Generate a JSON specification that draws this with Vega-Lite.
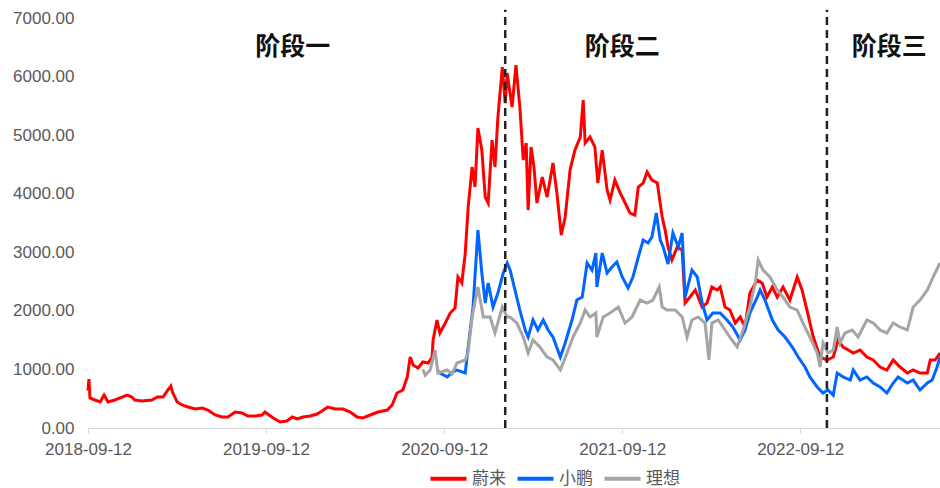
{
  "$schema": "https://vega.github.io/schema/vega-lite/v6.json",
  "width": 852,
  "height": 410,
  "autosize": {"type": "none"},
  "padding": {"left": 88, "top": 18, "right": 0, "bottom": 60},
  "background": "#ffffff",
  "config": {"view": {"stroke": null}, "font": "Liberation Sans"},
  "datasets": {
    "prices": [
      {"date":"2018-09-12","series":"蔚来","value":640},
      {"date":"2018-09-14","series":"蔚来","value":836},
      {"date":"2018-09-16","series":"蔚来","value":512},
      {"date":"2018-09-26","series":"蔚来","value":478},
      {"date":"2018-10-07","series":"蔚来","value":444},
      {"date":"2018-10-15","series":"蔚来","value":563},
      {"date":"2018-10-23","series":"蔚来","value":444},
      {"date":"2018-11-06","series":"蔚来","value":478},
      {"date":"2018-11-21","series":"蔚来","value":529},
      {"date":"2018-12-01","series":"蔚来","value":563},
      {"date":"2018-12-11","series":"蔚来","value":529},
      {"date":"2018-12-17","series":"蔚来","value":478},
      {"date":"2019-01-01","series":"蔚来","value":461},
      {"date":"2019-01-21","series":"蔚来","value":478},
      {"date":"2019-02-01","series":"蔚来","value":529},
      {"date":"2019-02-13","series":"蔚来","value":529},
      {"date":"2019-02-23","series":"蔚来","value":649},
      {"date":"2019-03-01","series":"蔚来","value":717},
      {"date":"2019-03-05","series":"蔚来","value":597},
      {"date":"2019-03-14","series":"蔚来","value":444},
      {"date":"2019-03-24","series":"蔚来","value":393},
      {"date":"2019-04-05","series":"蔚来","value":358},
      {"date":"2019-04-20","series":"蔚来","value":324},
      {"date":"2019-05-04","series":"蔚来","value":341},
      {"date":"2019-05-16","series":"蔚来","value":307},
      {"date":"2019-05-31","series":"蔚来","value":222},
      {"date":"2019-06-14","series":"蔚来","value":188},
      {"date":"2019-06-26","series":"蔚来","value":188},
      {"date":"2019-07-11","series":"蔚来","value":273},
      {"date":"2019-07-25","series":"蔚来","value":256},
      {"date":"2019-08-06","series":"蔚来","value":205},
      {"date":"2019-08-21","series":"蔚来","value":205},
      {"date":"2019-09-04","series":"蔚来","value":222},
      {"date":"2019-09-10","series":"蔚来","value":273},
      {"date":"2019-09-27","series":"蔚来","value":171},
      {"date":"2019-10-11","series":"蔚来","value":102},
      {"date":"2019-10-25","series":"蔚来","value":120},
      {"date":"2019-11-05","series":"蔚来","value":188},
      {"date":"2019-11-15","series":"蔚来","value":154},
      {"date":"2019-11-27","series":"蔚来","value":188},
      {"date":"2019-12-12","series":"蔚来","value":205},
      {"date":"2019-12-26","series":"蔚来","value":239},
      {"date":"2020-01-05","series":"蔚来","value":290},
      {"date":"2020-01-17","series":"蔚来","value":358},
      {"date":"2020-02-01","series":"蔚来","value":324},
      {"date":"2020-02-17","series":"蔚来","value":324},
      {"date":"2020-03-03","series":"蔚来","value":273},
      {"date":"2020-03-17","series":"蔚来","value":188},
      {"date":"2020-03-29","series":"蔚来","value":171},
      {"date":"2020-04-13","series":"蔚来","value":222},
      {"date":"2020-04-29","series":"蔚来","value":273},
      {"date":"2020-05-18","series":"蔚来","value":307},
      {"date":"2020-05-28","series":"蔚来","value":393},
      {"date":"2020-06-07","series":"蔚来","value":597},
      {"date":"2020-06-19","series":"蔚来","value":649},
      {"date":"2020-06-28","series":"蔚来","value":871},
      {"date":"2020-07-04","series":"蔚来","value":1212},
      {"date":"2020-07-10","series":"蔚来","value":1075},
      {"date":"2020-07-20","series":"蔚来","value":1024},
      {"date":"2020-07-30","series":"蔚来","value":1127},
      {"date":"2020-08-10","series":"蔚来","value":1110},
      {"date":"2020-08-18","series":"蔚来","value":1212},
      {"date":"2020-08-20","series":"蔚来","value":1502},
      {"date":"2020-08-28","series":"蔚来","value":1844},
      {"date":"2020-09-03","series":"蔚来","value":1622},
      {"date":"2020-09-14","series":"蔚来","value":1792},
      {"date":"2020-09-24","series":"蔚来","value":1963},
      {"date":"2020-10-04","series":"蔚来","value":2048},
      {"date":"2020-10-10","series":"蔚来","value":2578},
      {"date":"2020-10-18","series":"蔚来","value":2475},
      {"date":"2020-10-25","series":"蔚来","value":2987},
      {"date":"2020-10-31","series":"蔚来","value":3772},
      {"date":"2020-11-08","series":"蔚来","value":4455},
      {"date":"2020-11-14","series":"蔚来","value":4114},
      {"date":"2020-11-20","series":"蔚来","value":5121},
      {"date":"2020-11-28","series":"蔚来","value":4745},
      {"date":"2020-12-05","series":"蔚来","value":3943},
      {"date":"2020-12-11","series":"蔚来","value":3841},
      {"date":"2020-12-19","series":"蔚来","value":4916},
      {"date":"2020-12-25","series":"蔚来","value":4455},
      {"date":"2020-12-31","series":"蔚来","value":5309},
      {"date":"2021-01-09","series":"蔚来","value":6162},
      {"date":"2021-01-15","series":"蔚来","value":5548},
      {"date":"2021-01-19","series":"蔚来","value":6060},
      {"date":"2021-01-29","series":"蔚来","value":5480},
      {"date":"2021-02-06","series":"蔚来","value":6196},
      {"date":"2021-02-14","series":"蔚来","value":5480},
      {"date":"2021-02-21","series":"蔚来","value":4575},
      {"date":"2021-02-27","series":"蔚来","value":4865},
      {"date":"2021-03-03","series":"蔚来","value":3721},
      {"date":"2021-03-09","series":"蔚来","value":4797},
      {"date":"2021-03-15","series":"蔚来","value":4455},
      {"date":"2021-03-21","series":"蔚来","value":3841},
      {"date":"2021-04-01","series":"蔚来","value":4285},
      {"date":"2021-04-11","series":"蔚来","value":3943},
      {"date":"2021-04-23","series":"蔚来","value":4524},
      {"date":"2021-05-01","series":"蔚来","value":4012},
      {"date":"2021-05-10","series":"蔚来","value":3295},
      {"date":"2021-05-18","series":"蔚来","value":3602},
      {"date":"2021-05-28","series":"蔚来","value":4404},
      {"date":"2021-06-07","series":"蔚来","value":4745},
      {"date":"2021-06-18","series":"蔚来","value":4967},
      {"date":"2021-06-24","series":"蔚来","value":5599},
      {"date":"2021-06-28","series":"蔚来","value":4865},
      {"date":"2021-07-08","series":"蔚来","value":4967},
      {"date":"2021-07-18","series":"蔚来","value":4797},
      {"date":"2021-07-24","series":"蔚来","value":4182},
      {"date":"2021-08-02","series":"蔚来","value":4745},
      {"date":"2021-08-12","series":"蔚来","value":4063},
      {"date":"2021-08-18","series":"蔚来","value":3892},
      {"date":"2021-08-28","series":"蔚来","value":4233},
      {"date":"2021-09-08","series":"蔚来","value":4012},
      {"date":"2021-09-18","series":"蔚来","value":3841},
      {"date":"2021-09-28","series":"蔚来","value":3670},
      {"date":"2021-10-08","series":"蔚来","value":3636},
      {"date":"2021-10-15","series":"蔚来","value":4114},
      {"date":"2021-10-25","series":"蔚来","value":4182},
      {"date":"2021-11-02","series":"蔚来","value":4370},
      {"date":"2021-11-12","series":"蔚来","value":4233},
      {"date":"2021-11-23","series":"蔚来","value":4182},
      {"date":"2021-12-03","series":"蔚来","value":3602},
      {"date":"2021-12-09","series":"蔚来","value":3380},
      {"date":"2021-12-15","series":"蔚来","value":3090},
      {"date":"2021-12-23","series":"蔚来","value":2868},
      {"date":"2022-01-03","series":"蔚来","value":3090},
      {"date":"2022-01-13","series":"蔚来","value":3039},
      {"date":"2022-01-19","series":"蔚来","value":2134},
      {"date":"2022-01-29","series":"蔚来","value":2236},
      {"date":"2022-02-09","series":"蔚来","value":2356},
      {"date":"2022-02-23","series":"蔚来","value":2065},
      {"date":"2022-03-05","series":"蔚来","value":2134},
      {"date":"2022-03-15","series":"蔚来","value":2407},
      {"date":"2022-03-26","series":"蔚来","value":2356},
      {"date":"2022-04-01","series":"蔚来","value":2407},
      {"date":"2022-04-11","series":"蔚来","value":2065},
      {"date":"2022-04-21","series":"蔚来","value":2014},
      {"date":"2022-05-02","series":"蔚来","value":1792},
      {"date":"2022-05-12","series":"蔚来","value":1895},
      {"date":"2022-05-22","series":"蔚来","value":1724},
      {"date":"2022-06-01","series":"蔚来","value":2304},
      {"date":"2022-06-16","series":"蔚来","value":2526},
      {"date":"2022-06-26","series":"蔚来","value":2475},
      {"date":"2022-07-06","series":"蔚来","value":2236},
      {"date":"2022-07-17","series":"蔚来","value":2407},
      {"date":"2022-07-27","series":"蔚来","value":2236},
      {"date":"2022-08-08","series":"蔚来","value":2407},
      {"date":"2022-08-22","series":"蔚来","value":2185},
      {"date":"2022-09-06","series":"蔚来","value":2578},
      {"date":"2022-09-16","series":"蔚来","value":2356},
      {"date":"2022-09-26","series":"蔚来","value":2014},
      {"date":"2022-10-09","series":"蔚来","value":1553},
      {"date":"2022-10-23","series":"蔚来","value":1212},
      {"date":"2022-11-06","series":"蔚来","value":1161},
      {"date":"2022-11-19","series":"蔚来","value":1212},
      {"date":"2022-11-29","series":"蔚来","value":1502},
      {"date":"2022-12-09","series":"蔚来","value":1383},
      {"date":"2022-12-20","series":"蔚来","value":1331},
      {"date":"2022-12-30","series":"蔚来","value":1280},
      {"date":"2023-01-13","series":"蔚来","value":1331},
      {"date":"2023-01-27","series":"蔚来","value":1212},
      {"date":"2023-02-09","series":"蔚来","value":1161},
      {"date":"2023-02-23","series":"蔚来","value":1041},
      {"date":"2023-03-09","series":"蔚来","value":990},
      {"date":"2023-03-22","series":"蔚来","value":1161},
      {"date":"2023-04-05","series":"蔚来","value":1041},
      {"date":"2023-04-20","series":"蔚来","value":939},
      {"date":"2023-05-02","series":"蔚来","value":990},
      {"date":"2023-05-16","series":"蔚来","value":939},
      {"date":"2023-05-31","series":"蔚来","value":939},
      {"date":"2023-06-06","series":"蔚来","value":1161},
      {"date":"2023-06-16","series":"蔚来","value":1161},
      {"date":"2023-06-26","series":"蔚来","value":1280},

      {"date":"2020-08-28","series":"小鹏","value":1000},
      {"date":"2020-09-03","series":"小鹏","value":939},
      {"date":"2020-09-18","series":"小鹏","value":871},
      {"date":"2020-09-28","series":"小鹏","value":950},
      {"date":"2020-10-08","series":"小鹏","value":990},
      {"date":"2020-10-25","series":"小鹏","value":939},
      {"date":"2020-10-31","series":"小鹏","value":1383},
      {"date":"2020-11-10","series":"小鹏","value":2065},
      {"date":"2020-11-20","series":"小鹏","value":3380},
      {"date":"2020-11-28","series":"小鹏","value":2646},
      {"date":"2020-12-05","series":"小鹏","value":2134},
      {"date":"2020-12-11","series":"小鹏","value":2475},
      {"date":"2020-12-21","series":"小鹏","value":2065},
      {"date":"2020-12-31","series":"小鹏","value":2304},
      {"date":"2021-01-11","series":"小鹏","value":2646},
      {"date":"2021-01-19","series":"小鹏","value":2817},
      {"date":"2021-01-25","series":"小鹏","value":2697},
      {"date":"2021-02-04","series":"小鹏","value":2356},
      {"date":"2021-02-14","series":"小鹏","value":2014},
      {"date":"2021-02-25","series":"小鹏","value":1673},
      {"date":"2021-03-03","series":"小鹏","value":1553},
      {"date":"2021-03-13","series":"小鹏","value":1844},
      {"date":"2021-03-23","series":"小鹏","value":1673},
      {"date":"2021-04-03","series":"小鹏","value":1844},
      {"date":"2021-04-13","series":"小鹏","value":1673},
      {"date":"2021-04-23","series":"小鹏","value":1553},
      {"date":"2021-05-08","series":"小鹏","value":1212},
      {"date":"2021-05-18","series":"小鹏","value":1451},
      {"date":"2021-06-01","series":"小鹏","value":1844},
      {"date":"2021-06-11","series":"小鹏","value":2185},
      {"date":"2021-06-22","series":"小鹏","value":2236},
      {"date":"2021-07-02","series":"小鹏","value":2817},
      {"date":"2021-07-12","series":"小鹏","value":2697},
      {"date":"2021-07-20","series":"小鹏","value":2987},
      {"date":"2021-07-22","series":"小鹏","value":2407},
      {"date":"2021-08-02","series":"小鹏","value":2987},
      {"date":"2021-08-12","series":"小鹏","value":2646},
      {"date":"2021-08-22","series":"小鹏","value":2748},
      {"date":"2021-09-01","series":"小鹏","value":2834},
      {"date":"2021-09-12","series":"小鹏","value":2578},
      {"date":"2021-09-24","series":"小鹏","value":2390},
      {"date":"2021-10-04","series":"小鹏","value":2578},
      {"date":"2021-10-15","series":"小鹏","value":2919},
      {"date":"2021-10-25","series":"小鹏","value":3209},
      {"date":"2021-11-04","series":"小鹏","value":3158},
      {"date":"2021-11-12","series":"小鹏","value":3260},
      {"date":"2021-11-21","series":"小鹏","value":3670},
      {"date":"2021-11-29","series":"小鹏","value":3209},
      {"date":"2021-12-05","series":"小鹏","value":3090},
      {"date":"2021-12-15","series":"小鹏","value":2800},
      {"date":"2021-12-25","series":"小鹏","value":3329},
      {"date":"2022-01-05","series":"小鹏","value":3090},
      {"date":"2022-01-13","series":"小鹏","value":3329},
      {"date":"2022-01-19","series":"小鹏","value":2236},
      {"date":"2022-02-02","series":"小鹏","value":2697},
      {"date":"2022-02-13","series":"小鹏","value":2578},
      {"date":"2022-02-23","series":"小鹏","value":2134},
      {"date":"2022-03-05","series":"小鹏","value":1844},
      {"date":"2022-03-17","series":"小鹏","value":1963},
      {"date":"2022-04-01","series":"小鹏","value":1963},
      {"date":"2022-04-15","series":"小鹏","value":1844},
      {"date":"2022-04-27","series":"小鹏","value":1724},
      {"date":"2022-05-12","series":"小鹏","value":1502},
      {"date":"2022-05-22","series":"小鹏","value":1673},
      {"date":"2022-06-01","series":"小鹏","value":1963},
      {"date":"2022-06-16","series":"小鹏","value":2236},
      {"date":"2022-06-22","series":"小鹏","value":2356},
      {"date":"2022-07-02","series":"小鹏","value":2185},
      {"date":"2022-07-17","series":"小鹏","value":1844},
      {"date":"2022-07-29","series":"小鹏","value":1673},
      {"date":"2022-08-12","series":"小鹏","value":1553},
      {"date":"2022-08-27","series":"小鹏","value":1383},
      {"date":"2022-09-08","series":"小鹏","value":1212},
      {"date":"2022-09-22","series":"小鹏","value":1041},
      {"date":"2022-10-02","series":"小鹏","value":871},
      {"date":"2022-10-17","series":"小鹏","value":700},
      {"date":"2022-10-29","series":"小鹏","value":597},
      {"date":"2022-11-08","series":"小鹏","value":649},
      {"date":"2022-11-19","series":"小鹏","value":560},
      {"date":"2022-11-27","series":"小鹏","value":939},
      {"date":"2022-12-09","series":"小鹏","value":871},
      {"date":"2022-12-24","series":"小鹏","value":819},
      {"date":"2022-12-30","series":"小鹏","value":990},
      {"date":"2023-01-13","series":"小鹏","value":819},
      {"date":"2023-01-27","series":"小鹏","value":871},
      {"date":"2023-02-09","series":"小鹏","value":768},
      {"date":"2023-02-23","series":"小鹏","value":700},
      {"date":"2023-03-09","series":"小鹏","value":597},
      {"date":"2023-03-22","series":"小鹏","value":768},
      {"date":"2023-04-01","series":"小鹏","value":871},
      {"date":"2023-04-20","series":"小鹏","value":768},
      {"date":"2023-05-02","series":"小鹏","value":819},
      {"date":"2023-05-16","series":"小鹏","value":649},
      {"date":"2023-05-31","series":"小鹏","value":768},
      {"date":"2023-06-10","series":"小鹏","value":819},
      {"date":"2023-06-20","series":"小鹏","value":1041},
      {"date":"2023-06-26","series":"小鹏","value":1212},

      {"date":"2020-07-30","series":"理想","value":1000},
      {"date":"2020-08-04","series":"理想","value":900},
      {"date":"2020-08-14","series":"理想","value":990},
      {"date":"2020-08-24","series":"理想","value":1331},
      {"date":"2020-08-30","series":"理想","value":939},
      {"date":"2020-09-18","series":"理想","value":990},
      {"date":"2020-09-28","series":"理想","value":920},
      {"date":"2020-10-08","series":"理想","value":1110},
      {"date":"2020-10-25","series":"理想","value":1161},
      {"date":"2020-10-31","series":"理想","value":1300},
      {"date":"2020-11-08","series":"理想","value":1895},
      {"date":"2020-11-20","series":"理想","value":2407},
      {"date":"2020-12-01","series":"理想","value":1895},
      {"date":"2020-12-15","series":"理想","value":1895},
      {"date":"2020-12-25","series":"理想","value":1622},
      {"date":"2021-01-09","series":"理想","value":2065},
      {"date":"2021-01-19","series":"理想","value":1895},
      {"date":"2021-01-25","series":"理想","value":1895},
      {"date":"2021-02-08","series":"理想","value":1792},
      {"date":"2021-02-21","series":"理想","value":1553},
      {"date":"2021-03-03","series":"理想","value":1280},
      {"date":"2021-03-13","series":"理想","value":1502},
      {"date":"2021-03-27","series":"理想","value":1383},
      {"date":"2021-04-11","series":"理想","value":1212},
      {"date":"2021-04-23","series":"理想","value":1161},
      {"date":"2021-05-08","series":"理想","value":990},
      {"date":"2021-05-22","series":"理想","value":1280},
      {"date":"2021-06-03","series":"理想","value":1553},
      {"date":"2021-06-18","series":"理想","value":1792},
      {"date":"2021-06-28","series":"理想","value":2014},
      {"date":"2021-07-08","series":"理想","value":1895},
      {"date":"2021-07-20","series":"理想","value":1963},
      {"date":"2021-07-22","series":"理想","value":1553},
      {"date":"2021-08-04","series":"理想","value":1895},
      {"date":"2021-08-18","series":"理想","value":1963},
      {"date":"2021-09-04","series":"理想","value":2065},
      {"date":"2021-09-18","series":"理想","value":1792},
      {"date":"2021-10-02","series":"理想","value":1895},
      {"date":"2021-10-19","series":"理想","value":2185},
      {"date":"2021-11-02","series":"理想","value":2134},
      {"date":"2021-11-14","series":"理想","value":2185},
      {"date":"2021-11-27","series":"理想","value":2407},
      {"date":"2021-12-03","series":"理想","value":2065},
      {"date":"2021-12-13","series":"理想","value":2014},
      {"date":"2021-12-30","series":"理想","value":2014},
      {"date":"2022-01-13","series":"理想","value":1895},
      {"date":"2022-01-23","series":"理想","value":1553},
      {"date":"2022-02-02","series":"理想","value":1844},
      {"date":"2022-02-15","series":"理想","value":1895},
      {"date":"2022-03-01","series":"理想","value":1792},
      {"date":"2022-03-09","series":"理想","value":1161},
      {"date":"2022-03-15","series":"理想","value":1792},
      {"date":"2022-03-28","series":"理想","value":1844},
      {"date":"2022-04-11","series":"理想","value":1673},
      {"date":"2022-04-25","series":"理想","value":1502},
      {"date":"2022-05-06","series":"理想","value":1383},
      {"date":"2022-05-18","series":"理想","value":1673},
      {"date":"2022-06-01","series":"理想","value":2065},
      {"date":"2022-06-12","series":"理想","value":2475},
      {"date":"2022-06-18","series":"理想","value":2868},
      {"date":"2022-06-28","series":"理想","value":2697},
      {"date":"2022-07-12","series":"理想","value":2578},
      {"date":"2022-07-27","series":"理想","value":2356},
      {"date":"2022-08-08","series":"理想","value":2236},
      {"date":"2022-08-22","series":"理想","value":2065},
      {"date":"2022-09-06","series":"理想","value":2014},
      {"date":"2022-09-18","series":"理想","value":1792},
      {"date":"2022-10-02","series":"理想","value":1553},
      {"date":"2022-10-17","series":"理想","value":1280},
      {"date":"2022-10-23","series":"理想","value":1041},
      {"date":"2022-10-29","series":"理想","value":1451},
      {"date":"2022-11-08","series":"理想","value":1280},
      {"date":"2022-11-19","series":"理想","value":1331},
      {"date":"2022-11-27","series":"理想","value":1724},
      {"date":"2022-12-03","series":"理想","value":1451},
      {"date":"2022-12-13","series":"理想","value":1622},
      {"date":"2022-12-28","series":"理想","value":1673},
      {"date":"2023-01-09","series":"理想","value":1553},
      {"date":"2023-01-27","series":"理想","value":1844},
      {"date":"2023-02-09","series":"理想","value":1792},
      {"date":"2023-02-23","series":"理想","value":1673},
      {"date":"2023-03-09","series":"理想","value":1622},
      {"date":"2023-03-22","series":"理想","value":1792},
      {"date":"2023-04-05","series":"理想","value":1724},
      {"date":"2023-04-20","series":"理想","value":1673},
      {"date":"2023-05-02","series":"理想","value":2065},
      {"date":"2023-05-16","series":"理想","value":2185},
      {"date":"2023-05-31","series":"理想","value":2356},
      {"date":"2023-06-12","series":"理想","value":2578},
      {"date":"2023-06-26","series":"理想","value":2817}
    ],
    "stages": [
      {"date":"2021-01-15","low":0,"high":7140},
      {"date":"2022-11-06","low":0,"high":7140}
    ],
    "labels": [
      {"date":"2019-11-06","value":6500,"label":"阶段一"},
      {"date":"2021-09-12","value":6500,"label":"阶段二"},
      {"date":"2023-03-14","value":6500,"label":"阶段三"}
    ]
  },
  "encoding": {
    "x": {
      "field": "date",
      "type": "temporal",
      "scale": {"domain": ["2018-09-12", "2023-06-26"]},
      "axis": {
        "title": null,
        "values": ["2018-09-12", "2019-09-12", "2020-09-12", "2021-09-12", "2022-09-12"],
        "format": "%Y-%m-%d",
        "grid": false,
        "domainColor": "#D9D9D9",
        "tickColor": "#D9D9D9",
        "tickSize": 5,
        "labelAlign": "center",
        "labelFlush": false,
        "labelFontSize": 17,
        "labelColor": "#595959",
        "labelPadding": 8,
        "labelFont": "Liberation Sans"
      }
    },
    "y": {
      "field": "value",
      "type": "quantitative",
      "scale": {"domain": [0, 7000], "nice": false},
      "axis": {
        "title": null,
        "values": [0, 1000, 2000, 3000, 4000, 5000, 6000, 7000],
        "format": ".2f",
        "grid": false,
        "domain": false,
        "ticks": false,
        "labelFontSize": 17,
        "labelColor": "#595959",
        "labelPadding": 14,
        "labelFont": "Liberation Sans"
      }
    }
  },
  "layer": [
    {
      "data": {"name": "prices"},
      "mark": {"type": "line", "strokeWidth": 3, "interpolate": "linear"},
      "encoding": {
        "color": {
          "field": "series",
          "type": "nominal",
          "sort": ["蔚来", "小鹏", "理想"],
          "scale": {"domain": ["蔚来", "小鹏", "理想"], "range": ["#FF0000", "#0066FF", "#A5A5A5"]},
          "legend": {
            "title": null,
            "orient": "none",
            "direction": "horizontal",
            "legendX": 340,
            "legendY": 440,
            "symbolType": "stroke",
            "symbolSize": 1300,
            "symbolStrokeWidth": 4,
            "labelFontSize": 17,
            "labelColor": "#595959",
            "labelFont": "Noto Sans CJK SC",
            "columnPadding": 3,
            "labelOffset": 3
          }
        }
      }
    },
    {
      "data": {"name": "stages"},
      "mark": {"type": "rule", "color": "#222222", "strokeWidth": 2.5, "strokeDash": [8, 5]},
      "encoding": {
        "y": {"field": "low", "type": "quantitative"},
        "y2": {"field": "high"}
      }
    },
    {
      "data": {"name": "labels"},
      "mark": {"type": "text", "font": "Noto Sans CJK SC", "fontWeight": "bold", "fontSize": 25, "color": "#111111", "align": "center", "baseline": "middle"},
      "encoding": {
        "text": {"field": "label"}
      }
    }
  ]
}
